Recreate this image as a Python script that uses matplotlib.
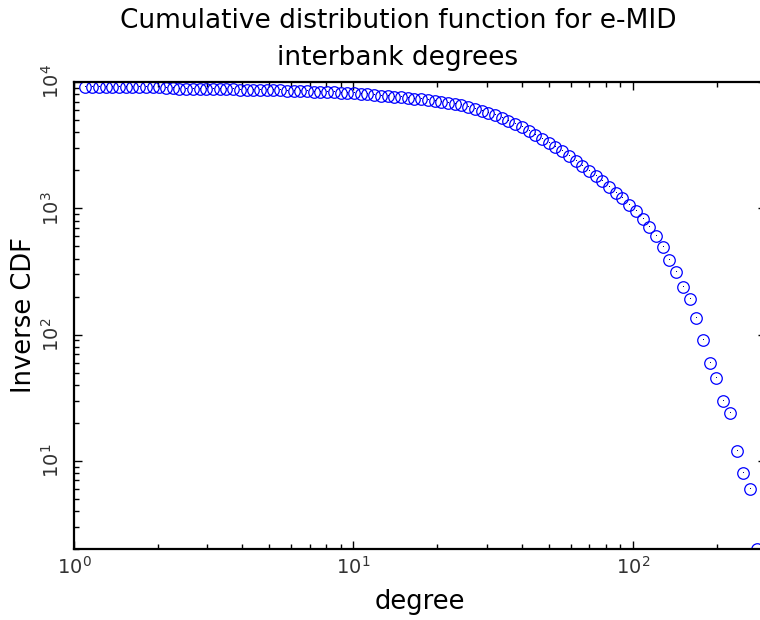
import matplotlib
matplotlib.use("Agg")
import matplotlib.pyplot as plt

# degree bins (log spaced)
degree = [1.099, 1.162, 1.228, 1.298, 1.372, 1.450, 1.532, 1.619, 1.711, 1.809,
          1.912, 2.020, 2.135, 2.257, 2.385, 2.521, 2.664, 2.816, 2.976, 3.145,
          3.324, 3.513, 3.713, 3.924, 4.148, 4.384, 4.633, 4.897, 5.175, 5.470,
          5.781, 6.110, 6.457, 6.825, 7.213, 7.623, 8.057, 8.515, 9.000, 9.512,
          10.05, 10.63, 11.23, 11.87, 12.54, 13.26, 14.01, 14.81, 15.65, 16.54,
          17.48, 18.48, 19.53, 20.64, 21.81, 23.05, 24.37, 25.75, 27.22, 28.77,
          30.40, 32.13, 33.96, 35.89, 37.94, 40.09, 42.37, 44.79, 47.33, 50.03,
          52.87, 55.88, 59.06, 62.42, 65.97, 69.73, 73.62, 77.81, 82.24, 86.92,
          91.86, 97.08, 102.6, 108.4, 114.6, 121.1, 128.0, 135.3, 143.0, 151.1,
          159.7, 168.8, 178.4, 188.6, 199.3, 210.6, 222.6, 235.3, 248.7, 262.8,
          277.8]

# number of banks with degree above each bin
inv_cdf = [9150, 9145, 9140, 9140, 9135, 9130, 9130, 9125, 9120, 9120,
           9115, 9110, 8920, 8900, 8880, 8870, 8850, 8840, 8820, 8800,
           8790, 8770, 8740, 8720, 8690, 8680, 8640, 8630, 8600, 8570,
           8540, 8500, 8470, 8440, 8410, 8380, 8340, 8290, 8250, 8190,
           8130, 8050, 7980, 7910, 7820, 7740, 7650, 7570, 7470, 7380,
           7280, 7180, 7080, 6960, 6830, 6700, 6520, 6320, 6110, 5920,
           5720, 5480, 5220, 4950, 4670, 4390, 4110, 3830, 3560, 3300,
           3060, 2820, 2600, 2380, 2170, 1990, 1800, 1640, 1480, 1330,
           1200, 1070, 952, 823, 711, 603, 492, 387, 311, 237,
           190, 134, 90, 59, 45, 30, 24, 12, 8, 6,
           2]

title = "Cumulative distribution function for e-MID\ninterbank degrees"

fig = plt.figure(figsize=(7.6, 6.2), dpi=100)
ax = fig.add_axes([0.0974, 0.1145, 0.9105, 0.7532])
ax.set_xscale("log")
ax.set_yscale("log")

ax.plot(degree, inv_cdf, "o", mfc="none", mec="#0000ff", ms=8.3, mew=0.9)
ax.plot(degree, inv_cdf, ",", color="#000080")

ax.set_xlim(1, 300)
ax.set_ylim(2, 1e4)

for s in ax.spines.values():
    s.set_linewidth(1.6)
ax.tick_params(which="both", direction="in", top=True, right=True,
               labelsize=14, width=1, labelcolor="#333333")
ax.tick_params(which="major", length=6)
ax.tick_params(which="minor", length=3.5)
ax.tick_params(axis="x", pad=5)
ax.tick_params(axis="y", pad=8, labelrotation=90)
for lbl in ax.get_yticklabels():
    lbl.set_va("center")

# the title sits a little left of the axes centre in the original
ax.set_title(title, fontsize=19, pad=12, linespacing=1.55, x=0.468)
ax.set_xlabel("degree", fontsize=18.5, labelpad=8)
ax.set_ylabel("Inverse CDF", fontsize=18.5, labelpad=3)

fig.savefig("out.png", dpi=100)
